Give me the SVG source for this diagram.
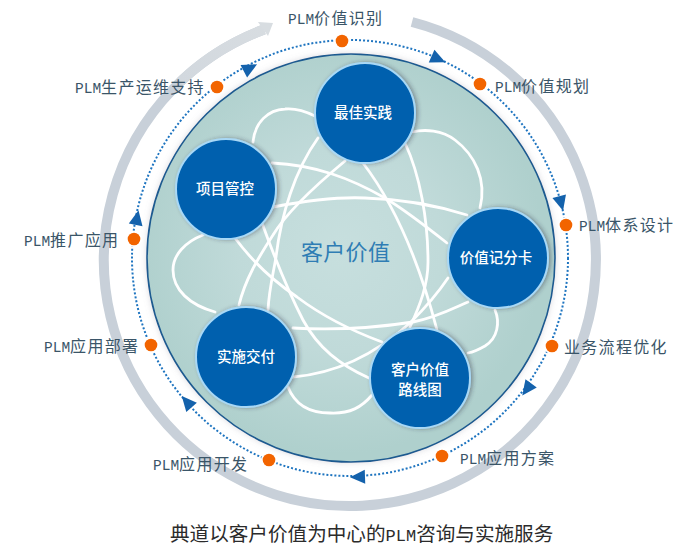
<svg xmlns="http://www.w3.org/2000/svg" width="700" height="552" viewBox="0 0 700 552">
<style>
.lb{font-family:"Noto Sans CJK SC","Liberation Sans",sans-serif;font-size:16px;letter-spacing:1.3px;fill:#3a5568}
.lb tspan{font-family:"Liberation Mono",monospace;font-size:14.5px;letter-spacing:0}
.nt{font-family:"Noto Sans CJK SC","Liberation Sans",sans-serif;font-size:14.5px;font-weight:500;fill:#fff;text-anchor:middle}
.orb{fill:none;stroke:#fff;stroke-width:2.8;stroke-linecap:round}
.bub{fill:#0060ae;stroke:#a8d8f6;stroke-width:2;filter:url(#sh)}
.dot{fill:#f26400}
.arr{fill:#1462ac}
</style>
<defs>
<radialGradient id="dg" gradientUnits="userSpaceOnUse" cx="340" cy="250" r="204">
<stop offset="0" stop-color="#c7dfde"/><stop offset="0.5" stop-color="#c0dad9"/><stop offset="1" stop-color="#afd0cd"/>
</radialGradient>
<filter id="sh" x="-30%" y="-30%" width="160%" height="160%"><feDropShadow dx="2" dy="0" stdDeviation="2" flood-color="#334" flood-opacity="0.42"/></filter>
<filter id="hl" x="-10%" y="-10%" width="120%" height="120%"><feDropShadow dx="0" dy="0" stdDeviation="3" flood-color="#889" flood-opacity="0.3"/></filter>
<linearGradient id="rg" gradientUnits="userSpaceOnUse" x1="100" y1="260" x2="280" y2="20"><stop offset="0" stop-color="#c7cfd9"/><stop offset="1" stop-color="#d8dde1"/></linearGradient>
</defs>
<rect width="700" height="552" fill="#fff"/>
<g id="ring">
<path d="M412,22 A246,246 0 1 1 264,29.5" fill="none" stroke="#c8d0d9" stroke-width="10"/>
<path d="M180,82 A246,246 0 0 1 264,29.5" fill="none" stroke="url(#rg)" stroke-width="10"/>
<polygon points="273,23 258,22 268,36" fill="#d8dde1"/>
</g>
<g id="disk">
<circle cx="351" cy="258" r="204" fill="url(#dg)" stroke="#1b5a90" stroke-width="1.6" filter="url(#hl)"/>
</g>
<g id="orbits">
<path class="orb" d="M318,138 C295,170 281,215 276,257 C273,275 269,290 268,310"/>
<path class="orb" d="M345,161 C310,190 285,215 273,235 C258,258 245,280 239,305"/>
<path class="orb" d="M235,238 C255,265 275,282 297,297 C325,318 355,332 382,342"/>
<path class="orb" d="M262,223 C270,245 285,285 303,320 C318,348 340,365 369,378"/>
<path class="orb" d="M293,328 C330,330 375,328 413,322 C435,318 452,309 468,302"/>
<path class="orb" d="M293,377 C340,373 380,350 410,323 C425,308 438,293 448,278"/>
<path class="orb" d="M363,163 C395,205 420,265 437,330"/>
<path class="orb" d="M405,143 C420,175 428,220 428,262 C428,285 420,305 410,327"/>
<path class="orb" d="M272,163 C315,165 350,178 385,198 C405,210 428,228 447,243"/>
<path class="orb" d="M273,207 C310,200 345,197 365,198 C400,199 435,205 467,215"/>
<path class="orb" d="M253,142 C255,122 268,110 285,109 C295,108 305,111 315,116"/>
<path class="orb" d="M412,132 C425,129 442,130 455,140 C475,155 487,180 480,208"/>
<path class="orb" d="M495,310 C500,322 498,338 485,346 C478,350 473,352 468,353"/>
<path class="orb" d="M288,387 C295,405 310,413 330,413 C350,414 362,407 372,395"/>
<path class="orb" d="M215,312 C190,305 173,290 173,270 C173,255 185,242 203,235"/>
</g>
<text id="center" x="301" y="260" font-family="Noto Sans CJK SC,Liberation Sans,sans-serif" font-size="22" letter-spacing="0.3" fill="#2f7db4">客户价值</text>
<g id="connectors">
<circle cx="350" cy="258" r="218" fill="none" stroke="#1f75c0" stroke-width="2" stroke-dasharray="2 2"/>
<polygon class="arr" points="8,0 -7,-7 -7,7" transform="translate(438,59) rotate(24)"/>
<polygon class="arr" points="8,0 -7,-7 -7,7" transform="translate(561,203) rotate(75)"/>
<polygon class="arr" points="8,0 -7,-7 -7,7" transform="translate(527,389) rotate(126)"/>
<polygon class="arr" points="8,0 -7,-7 -7,7" transform="translate(358,477) rotate(178)"/>
<polygon class="arr" points="8,0 -7,-7 -7,7" transform="translate(187,402) rotate(-131)"/>
<polygon class="arr" points="8,0 -7,-7 -7,7" transform="translate(137,218) rotate(-79)"/>
<polygon class="arr" points="8,0 -7,-7 -7,7" transform="translate(250,68) rotate(-28)"/>
</g>
<g id="n-best"><circle class="bub" cx="365" cy="113" r="50"/><text class="nt" x="363" y="118">最佳实践</text></g>
<g id="n-pm"><circle class="bub" cx="226" cy="189" r="50"/><text class="nt" x="225" y="194">项目管控</text></g>
<g id="n-score"><circle class="bub" cx="498" cy="258" r="50"/><text class="nt" x="496" y="263">价值记分卡</text></g>
<g id="n-road"><circle class="bub" cx="420" cy="378" r="50"/><text class="nt" x="420" y="375">客户价值</text><text class="nt" x="420" y="395">路线图</text></g>
<g id="n-deliver"><circle class="bub" cx="246" cy="357" r="50"/><text class="nt" x="246" y="362">实施交付</text></g>
<g id="s1"><circle cx="342" cy="41" r="8" fill="#fff"/><circle class="dot" cx="342" cy="41" r="6.3"/><text class="lb" x="288" y="24"><tspan>PLM</tspan>价值识别</text></g>
<g id="s2"><circle cx="480" cy="84" r="8" fill="#fff"/><circle class="dot" cx="480" cy="84" r="6.3"/><text class="lb" x="495" y="92"><tspan>PLM</tspan>价值规划</text></g>
<g id="s3"><circle cx="566" cy="225" r="8" fill="#fff"/><circle class="dot" cx="566" cy="225" r="6.3"/><text class="lb" x="579" y="231"><tspan>PLM</tspan>体系设计</text></g>
<g id="s4"><circle cx="552" cy="346" r="8" fill="#fff"/><circle class="dot" cx="552" cy="346" r="6.3"/><text class="lb" x="564" y="353">业务流程优化</text></g>
<g id="s5"><circle cx="442" cy="456" r="8" fill="#fff"/><circle class="dot" cx="442" cy="456" r="6.3"/><text class="lb" x="460" y="464"><tspan>PLM</tspan>应用方案</text></g>
<g id="s6"><circle cx="269" cy="460" r="8" fill="#fff"/><circle class="dot" cx="269" cy="460" r="6.3"/><text class="lb" x="153" y="470"><tspan>PLM</tspan>应用开发</text></g>
<g id="s7"><circle cx="151" cy="345" r="8" fill="#fff"/><circle class="dot" cx="151" cy="345" r="6.3"/><text class="lb" x="44" y="352"><tspan>PLM</tspan>应用部署</text></g>
<g id="s8"><circle cx="134" cy="239" r="8" fill="#fff"/><circle class="dot" cx="134" cy="239" r="6.3"/><text class="lb" x="24" y="246"><tspan>PLM</tspan>推广应用</text></g>
<g id="s9"><circle cx="217" cy="87" r="8" fill="#fff"/><circle class="dot" cx="217" cy="87" r="6.3"/><text class="lb" x="75" y="93"><tspan>PLM</tspan>生产运维支持</text></g>
<text id="caption" x="170" y="541" font-family="Noto Sans CJK SC,Liberation Sans,sans-serif" font-size="19.6" fill="#2b2b2b">典道以客户价值为中心的<tspan font-family="Liberation Mono,monospace" font-size="17">PLM</tspan>咨询与实施服务</text>
</svg>
